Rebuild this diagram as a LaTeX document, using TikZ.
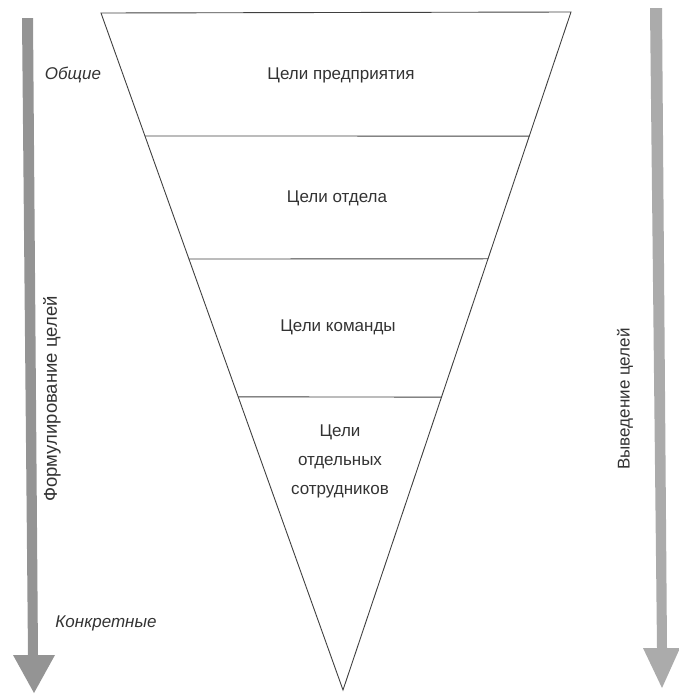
\documentclass[tikz,border=0pt]{standalone}
\usepackage{fontspec}
\setmainfont{Liberation Sans}
\usetikzlibrary{calc}
\begin{document}
\begin{tikzpicture}[x=1pt,y=-1pt,
  edge/.style={draw=black!75,line width=0.9pt},
  lbl/.style={font=\fontsize{17}{29}\selectfont,text=black!80,align=center,inner sep=0pt},
  side/.style={font=\fontsize{17}{20}\selectfont\itshape,text=black!80,inner sep=0pt},
  vlbl/.style={font=\fontsize{#1}{20}\selectfont,text=black!80,inner sep=0pt,rotate=90}]
\useasboundingbox (0,0) rectangle (678,694);
% triangle
\coordinate (tl) at (101,13);
\coordinate (tr) at (571,12);
\coordinate (ap) at (343,690);
\coordinate (l1) at ($(tl)!0.1817!(ap)$);
\coordinate (r1) at ($(tr)!0.183!(ap)$);
\coordinate (l2) at ($(tl)!0.3634!(ap)$);
\coordinate (r2) at ($(tr)!0.364!(ap)$);
\coordinate (l3) at ($(tl)!0.567!(ap)$);
\coordinate (r3) at ($(tr)!0.568!(ap)$);
\draw[edge] (tl) -- (tr) -- (ap) -- cycle;
\draw[edge] (l1) -- (r1);
\draw[edge] (l2) -- (r2);
\draw[edge] (l3) -- (r3);
% labels
\node[lbl] (n1) at (341,75) {Цели предприятия};
\node[lbl] (n2) at (337,198) {Цели отдела};
\node[lbl] (n3) at (338,327) {Цели команды};
\node[lbl] (n4) at (340,461) {Цели\\отдельных\\сотрудников};
% left arrow
\fill[black!42] (22,18) -- (33,18) -- (38,655) -- (55,655) -- (34,693) -- (13,655) -- (28,655) -- cycle;
% right arrow
\fill[black!33] (650,8) -- (662,8) -- (667,648) -- (680,648) -- (662,688) -- (643,648) -- (657,648) -- cycle;
% side labels
\node[side] (gen) at (73,75) {Общие};
\node[side] (con) at (106,623) {Конкретные};
\node[vlbl=18.5] (form) at (52,399) {Формулирование целей};
\node[vlbl=17] (der) at (625,399) {Выведение целей};
\end{tikzpicture}
\end{document}
